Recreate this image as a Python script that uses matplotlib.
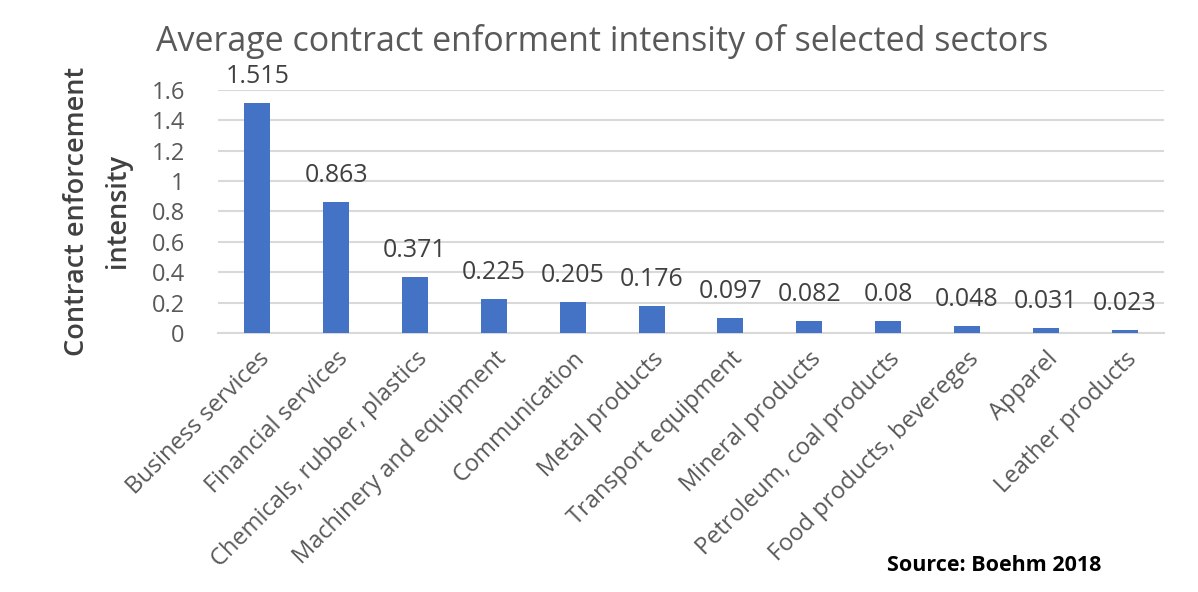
import numpy as np
import matplotlib.pyplot as plt

sectors = ["Business services", "Financial services", "Chemicals, rubber, plastics",
           "Machinery and equipment", "Communication", "Metal products",
           "Transport equipment", "Mineral products", "Petroleum, coal products",
           "Food products, bevereges", "Apparel", "Leather products"]
intensity = [1.515, 0.863, 0.371, 0.225, 0.205, 0.176, 0.097, 0.082, 0.08, 0.048, 0.031, 0.023]
value_labels = ["1.515", "0.863", "0.371", "0.225", "0.205", "0.176", "0.097", "0.082",
                "0.08", "0.048", "0.031", "0.023"]
yticks = [0, 0.2, 0.4, 0.6, 0.8, 1.0, 1.2, 1.4, 1.6]
ytick_labels = ["0", "0.2", "0.4", "0.6", "0.8", "1", "1.2", "1.4", "1.6"]

plt.rcParams['font.family'] = ['Open Sans', 'DejaVu Sans']

fig = plt.figure(figsize=(11.98, 5.92), dpi=100)
ax = fig.add_axes([0.182, 0.4375, 0.7896, 0.4105])

x = np.arange(len(sectors))
ax.bar(x, intensity, width=0.33, color='#4472C4', zorder=3)

# value labels above each bar
for xi, v, lab in zip(x, intensity, value_labels):
    ax.annotate(lab, (xi, v), xytext=(0, 10), textcoords='offset points',
                ha='center', va='bottom', fontsize=18, color='#404040', clip_on=False)

ax.set_xlim(-0.5, len(sectors) - 0.5)
ax.set_ylim(0, 1.6)
ax.set_yticks(yticks)
ax.set_yticklabels(ytick_labels)
ax.set_xticks(x)
ax.set_xticklabels(sectors, rotation=45, ha='right', rotation_mode='anchor')
ax.tick_params(axis='x', length=0, pad=10, labelsize=17, labelcolor='#595959')
ax.tick_params(axis='y', length=0, pad=24, labelsize=17, labelcolor='#595959')

ax.grid(axis='y', color='#d9d9d9', linewidth=1.5, zorder=0)
for s in ['top', 'right', 'left']:
    ax.spines[s].set_visible(False)
ax.spines['bottom'].set_color('#d9d9d9')
ax.spines['bottom'].set_linewidth(1.5)

ax.set_ylabel("Contract enforcement\nintensity", fontsize=19.5, color='#404040',
              fontweight='semibold', linespacing=1.6, labelpad=14)

fig.text(0.503, 0.93, "Average contract enforment intensity of selected sectors",
         ha='center', va='center', fontsize=24.5, color='#595959')
fig.text(0.83, 0.045, "Source: Boehm 2018", ha='center', va='center',
         fontsize=15.5, fontweight='bold', color='black')

fig.savefig("out.png", dpi=100)
